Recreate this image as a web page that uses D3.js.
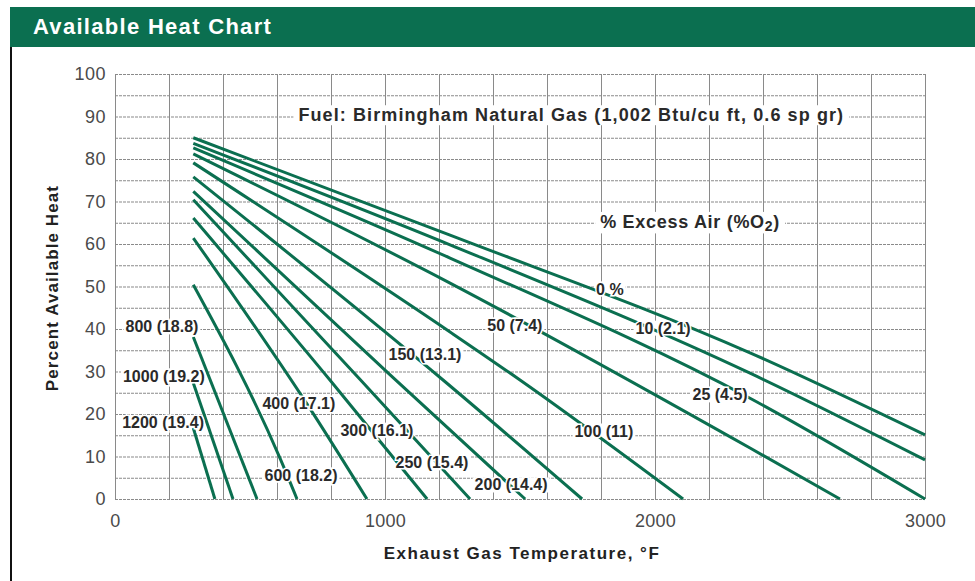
<!DOCTYPE html>
<html>
<head>
<meta charset="utf-8">
<script src="https://cdn.jsdelivr.net/npm/d3@7"></script>
<style>
  body { margin: 0; background: #fff; }
  svg { display: block; font-family: "Liberation Sans", Arial, sans-serif; }
</style>
</head>
<body>
<svg></svg>
<script>
// excess air curves, % excess air and matching %O2
let excessAir = [0, 10, 25, 50, 100, 150, 200, 250, 300, 400, 600, 800, 1000, 1200]
let oxygen = [null, 2.1, 4.5, 7.4, 11, 13.1, 14.4, 15.4, 16.1, 17.1, 18.2, 18.8, 19.2, 19.4]

// exhaust temperature (F) and percent available heat
let curveTemps = [
    [290, 1241, 2352, 3000],
    [290, 1241, 2352, 3000],
    [290, 1241, 2352, 3000],
    [290, 1241, 2352, 2685],
    [290, 1241, 1500, 2104],
    [290, 1215, 1730],
    [290, 1019, 1519],
    [290, 907, 1315],
    [290, 796, 1156],
    [290, 733, 933],
    [290, 611, 674],
    [290, 526],
    [290, 437],
    [290, 370]
]
let curveHeat = [
    [85.0, 62.1, 34.4, 15.1],
    [83.7, 59.8, 29.6, 9.2],
    [82.6, 56.7, 23.7, 0],
    [81.2, 50.8, 12.0, 0],
    [79.1, 39.3, 28.0, 0],
    [75.8, 28.0, 0],
    [72.4, 29.2, 0],
    [70.4, 28.2, 0],
    [66.1, 28.0, 0],
    [61.4, 20.2, 0],
    [50.4, 9.6, 0],
    [38.1, 0],
    [27.3, 0],
    [16.7, 0]
]

// where each curve label sits (temperature, percent)
let labelTemps = [1833, 2030, 2241, 1481, 1811, 1148, 1467, 1174, 970, 681, 689, 174, 181, 178]
let labelHeat = [49.4, 40.2, 24.5, 40.9, 16.0, 33.9, 3.3, 8.5, 16.2, 22.4, 5.6, 40.5, 28.9, 17.9]

let xTicks = [0, 1000, 2000, 3000]
let yTicks = [0, 10, 20, 30, 40, 50, 60, 70, 80, 90, 100]

let width = 975
let height = 581
let green = '#0b6f50'

let svg = d3.select('svg').attr('width', width).attr('height', height)

let xscale = d3.scaleLinear().domain([0, 3000]).range([115, 925])
let yscale = d3.scaleLinear().domain([0, 100]).range([499, 74])

// header bar
svg.append('rect')
    .attr('x', 10).attr('y', 7).attr('width', width - 10).attr('height', 40)
    .attr('fill', green)
svg.append('text')
    .attr('x', 33).attr('y', 34)
    .attr('fill', '#fff')
    .attr('font-size', 22)
    .attr('font-weight', 'bold')
    .attr('letter-spacing', 1.3)
    .text('Available Heat Chart')
svg.append('line')
    .attr('x1', 11).attr('x2', 11).attr('y1', 47).attr('y2', height)
    .attr('stroke', '#111').attr('stroke-width', 2)

// grid
let plotW = xscale(3000) - xscale(0)
let plotH = yscale(0) - yscale(100)

let vgrid = svg.append('g')
    .attr('transform', 'translate(0,' + yscale(0) + ')')
    .call(d3.axisBottom(xscale).tickValues(d3.range(0, 3001, 200)).tickSize(-plotH).tickFormat(''))
vgrid.selectAll('line').attr('stroke', '#8a8a8a').attr('stroke-width', 1)
vgrid.select('.domain').remove()

let hgrid = svg.append('g')
    .attr('transform', 'translate(' + xscale(0) + ',0)')
    .call(d3.axisLeft(yscale).tickValues(d3.range(0, 101, 5)).tickSize(-plotW).tickFormat(''))
hgrid.selectAll('line').attr('stroke', '#8a8a8a').attr('stroke-width', 1.2).attr('stroke-dasharray', '3,1')
hgrid.select('.domain').remove()

// axis labels
let yAxis = svg.append('g')
    .attr('transform', 'translate(' + xscale(0) + ',0)')
    .call(d3.axisLeft(yscale).tickValues(yTicks).tickSize(0).tickPadding(9))
yAxis.select('.domain').remove()
yAxis.selectAll('text').attr('font-size', 18).attr('fill', '#4a4a4a').attr('letter-spacing', 0.5)
    .attr('font-family', '"Liberation Sans", Arial, sans-serif')

let xAxis = svg.append('g')
    .attr('transform', 'translate(0,' + yscale(0) + ')')
    .call(d3.axisBottom(xscale).tickValues(xTicks).tickSize(0).tickPadding(15).tickFormat(d3.format('d')))
xAxis.select('.domain').remove()
xAxis.selectAll('text').attr('font-size', 18).attr('fill', '#4a4a4a').attr('letter-spacing', 0.3)
    .attr('font-family', '"Liberation Sans", Arial, sans-serif')

svg.append('text')
    .attr('transform', 'translate(58,288) rotate(-90)')
    .attr('text-anchor', 'middle')
    .attr('font-size', 17).attr('font-weight', 'bold').attr('fill', '#222')
    .attr('letter-spacing', 1.1)
    .text('Percent Available Heat')
svg.append('text')
    .attr('x', 522).attr('y', 559)
    .attr('text-anchor', 'middle')
    .attr('font-size', 17).attr('font-weight', 'bold').attr('fill', '#222')
    .attr('letter-spacing', 1.5)
    .text('Exhaust Gas Temperature, \u00B0F')

// boxed notes over the grid
let addNote = (t, h, size, spacing, build) => {
    let g = svg.append('g')
    let txt = g.append('text')
        .attr('x', xscale(t)).attr('y', yscale(h))
        .attr('text-anchor', 'middle').attr('dominant-baseline', 'central')
        .attr('font-size', size).attr('font-weight', 'bold').attr('fill', '#2a2a2a')
        .attr('letter-spacing', spacing)
    build(txt)
    let bb = txt.node().getBBox()
    g.insert('rect', 'text')
        .attr('x', bb.x - 5).attr('y', bb.y).attr('width', bb.width + 10).attr('height', bb.height)
        .attr('fill', '#fff')
}
addNote(1690, 90.3, 18, 1.1, (txt) => txt.text('Fuel: Birmingham Natural Gas (1,002 Btu/cu ft, 0.6 sp gr)'))
addNote(2130, 65.2, 18, 0.7, (txt) => {
    txt.append('tspan').text('% Excess Air (%O')
    txt.append('tspan').attr('baseline-shift', '-25%').attr('font-size', 14).text('2')
    txt.append('tspan').text(')')
})

// label boxes under the curves
let labels = excessAir.map((a, i) => ({
    text: a == 0 ? '0 %' : a + ' (' + oxygen[i] + ')',
    t: labelTemps[i],
    h: labelHeat[i]
}))
let boxLayer = svg.append('g')

// curves
let line = d3.line()
    .x((d) => xscale(d[0]))
    .y((d) => yscale(d[1]))
    .curve(d3.curveMonotoneX)

svg.append('g')
    .selectAll('path')
    .data(curveTemps.map((ts, i) => ts.map((t, j) => [t, curveHeat[i][j]])))
    .enter()
    .append('path')
    .attr('d', line)
    .attr('fill', 'none')
    .attr('stroke', green)
    .attr('stroke-width', 3)

let labelText = svg.append('g')
    .selectAll('text')
    .data(labels)
    .enter()
    .append('text')
    .attr('x', (d) => xscale(d.t))
    .attr('y', (d) => yscale(d.h))
    .attr('text-anchor', 'middle')
    .attr('dominant-baseline', 'central')
    .attr('font-size', 16)
    .attr('font-weight', 'bold')
    .attr('fill', '#2a2a2a')
    .attr('stroke', '#fff')
    .attr('stroke-width', 3)
    .attr('paint-order', 'stroke')
    .text((d) => d.text)

labelText.each(function () {
    let bb = this.getBBox()
    boxLayer.append('rect')
        .attr('x', bb.x - 2).attr('y', bb.y + 1).attr('width', bb.width + 4).attr('height', bb.height - 2)
        .attr('fill', '#fff')
})
</script>
</body>
</html>
